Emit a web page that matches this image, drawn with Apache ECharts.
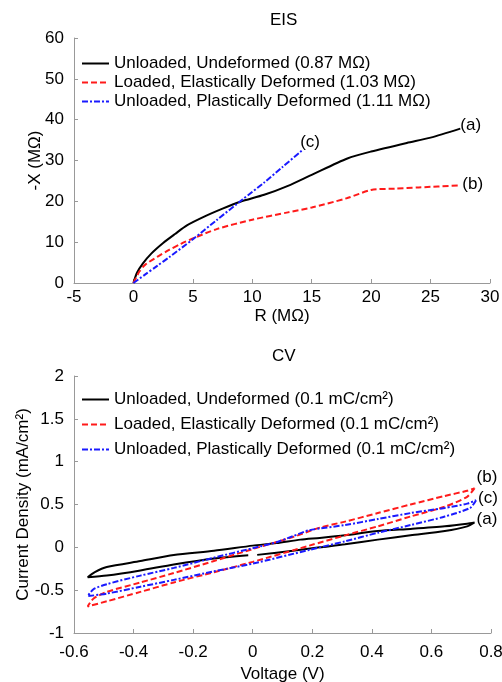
<!DOCTYPE html>
<html>
<head>
<meta charset="utf-8">
<script src="https://cdn.jsdelivr.net/npm/echarts@6/dist/echarts.min.js"></script>
<style>
html, body { margin: 0; padding: 0; background: #fff; }
#chart { width: 502px; height: 682px; }
</style>
</head>
<body>
<div id="chart"></div>
<script>
// EIS (Nyquist) data, R and -X in MOhm
var eisR_a = [0, 0.3, 0.8, 1.5, 2.5, 3.5, 4.5, 6, 7.5, 9, 11, 13, 15, 18, 20, 23, 25, 27.5];
var eisX_a = [0, 2.5, 4.8, 7.2, 9.8, 12, 14.1, 16.3, 18.2, 19.9, 21.6, 23.8, 26.5, 30.5, 32.2, 34.3, 35.6, 37.8];
var eisR_b = [0, 0.5, 1, 2, 3, 4, 5, 7, 10, 13, 15, 18, 20, 22, 24, 27.5];
var eisX_b = [0, 2.8, 4.5, 6.4, 8.1, 9.6, 10.9, 13.2, 15.5, 17.3, 18.5, 20.8, 22.8, 23.1, 23.4, 23.9];
var eisR_c = [0, 1, 2, 3, 5, 7, 9.2, 11, 12.5, 14.2];
var eisX_c = [0, 2.1, 4.2, 6.3, 10.7, 15.4, 20.5, 24.6, 28.3, 32.5];

// CV loops: from the right tip along the lower branch, then back along the upper one
var cvV_a = [0.745, 0.72, 0.645, 0.53, 0.42, 0.31, 0.225, 0.135, 0.015, 0, -0.015, -0.13, -0.265, -0.377, -0.49, -0.554,
	-0.53, -0.49, -0.377, -0.265, -0.13, 0, 0.08, 0.16, 0.225, 0.31, 0.42, 0.53, 0.645, 0.72, 0.745];
var cvJ_a = [0.29, 0.245, 0.19, 0.14, 0.09, 0.035, 0.0, -0.04, -0.088, '-', -0.092, -0.13, -0.2, -0.27, -0.33, -0.35,
	-0.29, -0.23, -0.16, -0.09, -0.04, 0.02, 0.05, 0.09, 0.11, 0.14, 0.19, 0.215, 0.245, 0.275, 0.29];
var cvV_b = [0.745, 0.72, 0.645, 0.53, 0.42, 0.31, 0.19, 0, -0.13, -0.265, -0.377, -0.49, -0.554,
	-0.535, -0.49, -0.377, -0.265, -0.13, 0, 0.135, 0.225, 0.31, 0.42, 0.53, 0.645, 0.72, 0.745];
var cvJ_b = [0.69, 0.59, 0.475, 0.36, 0.245, 0.14, 0.02, -0.17, -0.29, -0.41, -0.52, -0.63, -0.69,
	-0.6, -0.52, -0.41, -0.3, -0.16, -0.02, 0.12, 0.23, 0.3, 0.4, 0.5, 0.6, 0.66, 0.69];
var cvV_c = [0.75, 0.73, 0.645, 0.53, 0.42, 0.31, 0.19, 0, -0.13, -0.265, -0.377, -0.49, -0.554,
	-0.535, -0.49, -0.377, -0.265, -0.13, 0, 0.08, 0.135, 0.19, 0.31, 0.42, 0.53, 0.645, 0.72, 0.75];
var cvJ_c = [0.55, 0.46, 0.36, 0.26, 0.17, 0.07, -0.03, -0.19, -0.28, -0.38, -0.46, -0.54, -0.57,
	-0.49, -0.43, -0.33, -0.24, -0.12, -0.01, 0.06, 0.13, 0.2, 0.26, 0.33, 0.4, 0.46, 0.51, 0.55];

var eisNames = ['Unloaded, Undeformed (0.87 MΩ)', 'Loaded, Elastically Deformed (1.03 MΩ)', 'Unloaded, Plastically Deformed (1.11 MΩ)'];
var cvNames = ['Unloaded, Undeformed (0.1 mC/cm²)', 'Loaded, Elastically Deformed (0.1 mC/cm²)', 'Unloaded, Plastically Deformed (0.1 mC/cm²)'];
var tags = ['(a)', '(b)', '(c)'];

function zip(xs, ys) {
	var out = [];
	for (var i = 0; i < xs.length; i++) {
		out.push([xs[i], ys[i]]);
	}
	return out;
}

var FONT = 'Liberation Sans, Arial, Helvetica, sans-serif';
var FS = 17;
var colors = ['#000000', '#ff1a1a', '#1a1aff'];
var dashes = ['solid', [6, 3], [6, 2, 2, 2]];

function axisBase() {
	return {
		type: 'value',
		nameLocation: 'middle',
		nameMoveOverlap: false,
		nameTextStyle: { color: '#000', fontSize: FS, fontFamily: FONT },
		axisLine: { show: true, onZero: false, lineStyle: { color: '#999', width: 1 } },
		axisTick: { show: true, inside: true, length: 4, lineStyle: { color: '#999' } },
		axisLabel: { color: '#000', fontSize: FS, fontFamily: FONT },
		splitLine: { show: false }
	};
}

var x0 = axisBase();
x0.gridIndex = 0; x0.min = -5; x0.max = 30; x0.interval = 5;
x0.name = 'R (MΩ)'; x0.nameGap = 25; x0.axisLabel.margin = 6;
var y0 = axisBase();
y0.gridIndex = 0; y0.min = 0; y0.max = 60; y0.interval = 10;
y0.name = '-X (MΩ)'; y0.nameGap = 30; y0.axisLabel.margin = 10;
var x1 = axisBase();
x1.gridIndex = 1; x1.min = -0.6; x1.max = 0.8; x1.interval = 0.2;
x1.name = 'Voltage (V)'; x1.nameGap = 33; x1.axisLabel.margin = 11;
var y1 = axisBase();
y1.gridIndex = 1; y1.min = -1; y1.max = 2; y1.interval = 0.5;
y1.name = 'Current Density (mA/cm²)'; y1.nameGap = 42; y1.axisLabel.margin = 10;

var endOffsets0 = [[-2, -3], [0, -1], [-4, -8]];
var endOffsets1 = [[0, -3], [0, -11], [0, -2]];

function mkSeries(name, data, k, idx, offsets) {
	return {
		name: name,
		type: 'line',
		xAxisIndex: idx,
		yAxisIndex: idx,
		data: data,
		symbol: 'none',
		smooth: 0.25,
		connectNulls: false,
		lineStyle: { color: colors[k], width: 2, type: dashes[k] },
		itemStyle: { color: colors[k] },
		endLabel: {
			show: true,
			formatter: tags[k],
			color: '#000',
			fontSize: FS,
			fontFamily: FONT,
			distance: 2,
			offset: offsets[k]
		}
	};
}

var series = [
	mkSeries(eisNames[0], zip(eisR_a, eisX_a), 0, 0, endOffsets0),
	mkSeries(eisNames[1], zip(eisR_b, eisX_b), 1, 0, endOffsets0),
	mkSeries(eisNames[2], zip(eisR_c, eisX_c), 2, 0, endOffsets0),
	mkSeries(cvNames[0], zip(cvV_a, cvJ_a), 0, 1, endOffsets1),
	mkSeries(cvNames[1], zip(cvV_b, cvJ_b), 1, 1, endOffsets1),
	mkSeries(cvNames[2], zip(cvV_c, cvJ_c), 2, 1, endOffsets1)
];

var chart = echarts.init(document.getElementById('chart'), null, { renderer: 'canvas' });
chart.setOption({
	animation: false,
	backgroundColor: '#fff',
	title: [
		{ text: 'EIS', left: 270, top: 12, padding: 0, textStyle: { color: '#000', fontSize: FS, fontWeight: 'normal', fontFamily: FONT } },
		{ text: 'CV', left: 272, top: 348, padding: 0, textStyle: { color: '#000', fontSize: FS, fontWeight: 'normal', fontFamily: FONT } }
	],
	legend: [{
		show: true,
		orient: 'vertical',
		left: 81,
		top: 55,
		padding: 0,
		itemWidth: 27,
		itemHeight: 12,
		itemGap: 2,
		itemStyle: { opacity: 0 },
		textStyle: { color: '#000', fontSize: FS, fontFamily: FONT },
		data: eisNames
	}, {
		show: true,
		orient: 'vertical',
		left: 81,
		top: 391,
		padding: 0,
		itemWidth: 27,
		itemHeight: 12,
		itemGap: 8,
		itemStyle: { opacity: 0 },
		textStyle: { color: '#000', fontSize: FS, fontFamily: FONT },
		data: cvNames
	}],
	grid: [
		{ left: 74, right: 12, top: 38, height: 245, containLabel: false, outerBoundsMode: 'none' },
		{ left: 74, right: 11, top: 376, height: 257, containLabel: false, outerBoundsMode: 'none' }
	],
	xAxis: [x0, x1],
	yAxis: [y0, y1],
	series: series
});
</script>
</body>
</html>
